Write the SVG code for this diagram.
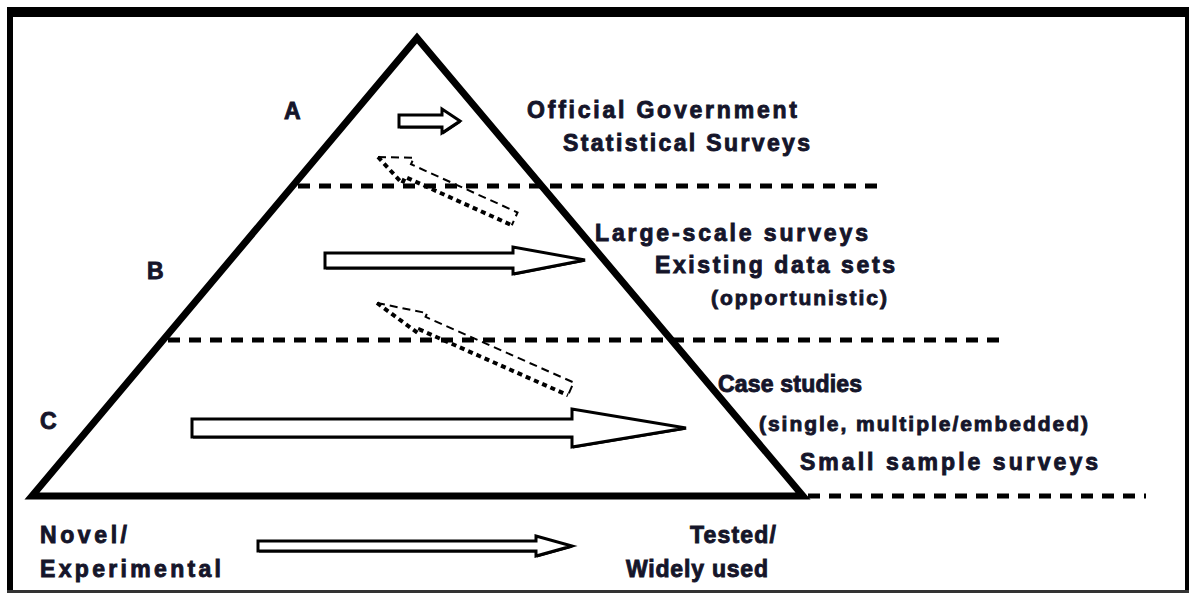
<svg xmlns="http://www.w3.org/2000/svg" width="1190" height="594" viewBox="0 0 1190 594">
  <style>
    .t { font-family: "Liberation Sans", Arial, sans-serif; font-weight: bold; font-size: 23px; fill: #15152a; stroke: #15152a; stroke-width: 0.9px; }
    .s { font-size: 21px; }
    .blk { fill: #fff; stroke: #000; stroke-width: 3; stroke-linejoin: miter; }
    .shd { fill: #000; }
    .div { fill: none; stroke: #000; stroke-width: 5; stroke-dasharray: 12 9; }
    .fb-thin { fill: none; stroke: #000; stroke-width: 2; stroke-dasharray: 8 5; }
    .fb-bold { fill: none; stroke: #000; stroke-width: 4; stroke-dasharray: 5 4; }
  </style>
  <defs>
    <polygon id="arrow-a" points="399,115 442,115 442,109 460,121 442,133 442,127 399,127"/>
    <polygon id="arrow-b" points="325,253 513,253 513,247 585,260 513,274 513,268 325,268"/>
    <polygon id="arrow-c" points="192,419 572,419 572,409 686,428 572,447 572,437 192,437"/>
    <polygon id="arrow-scale" points="258,541 536,541 536,536 572,546 536,556 536,551 258,551"/>
  </defs>
  <rect width="1190" height="594" fill="#fff"/>

  <!-- frame -->
  <g id="frame">
    <rect x="7" y="7" width="1182" height="10" fill="#000"/>
    <rect x="7" y="7" width="6" height="586" fill="#000"/>
    <rect x="1185" y="7" width="4" height="586" fill="#000"/>
    <rect x="7" y="590" width="1182" height="3" fill="#333"/>
  </g>

  <!-- level dividers -->
  <g id="dividers">
    <line class="div" x1="298" y1="186" x2="882" y2="186"/>
    <line class="div" x1="168" y1="340" x2="1006" y2="340"/>
    <line class="div" x1="808" y1="496" x2="1146" y2="496"/>
  </g>

  <!-- pyramid -->
  <g id="pyramid">
    <polygon points="32,496 417,38 803,496" fill="none" stroke="#000" stroke-width="7" stroke-linejoin="miter"/>
  </g>

  <!-- level labels -->
  <g id="level-a"><text class="t" x="284" y="119">A</text></g>
  <g id="level-b"><text class="t" x="147" y="279">B</text></g>
  <g id="level-c"><text class="t" x="40" y="429">C</text></g>

  <!-- connectors: block arrows (with offset shadow) and dashed feedback arrows -->
  <g id="connectors">
    <g transform="translate(1,1.5)" class="shd">
      <use href="#arrow-a"/><use href="#arrow-b"/><use href="#arrow-c"/><use href="#arrow-scale"/>
    </g>
    <use href="#arrow-a" class="blk"/>
    <use href="#arrow-b" class="blk"/>
    <use href="#arrow-c" class="blk"/>
    <use href="#arrow-scale" class="blk"/>

    <g transform="translate(378,157) rotate(24.35)">
      <path class="fb-thin" d="M0,0 L33,-14 L33,-7 L150,-7 L150,7"/>
      <path class="fb-bold" d="M0,0 L33,14 L33,7 L150,7"/>
    </g>
    <g transform="translate(377,303) rotate(23.9)">
      <path class="fb-thin" d="M0,0 L50,-11 L50,-7 L212,-7 L212,7"/>
      <path class="fb-bold" d="M0,0 L50,11 L50,7 L212,7"/>
    </g>
  </g>

  <!-- survey types per level -->
  <g id="text-a">
    <text class="t" x="527" y="118" textLength="270" lengthAdjust="spacing">Official Government</text>
    <text class="t" x="563" y="151" textLength="247" lengthAdjust="spacing">Statistical Surveys</text>
  </g>
  <g id="text-b">
    <text class="t" x="595" y="241" textLength="273" lengthAdjust="spacing">Large-scale surveys</text>
    <text class="t" x="655" y="273" textLength="240" lengthAdjust="spacing">Existing data sets</text>
    <text class="t s" x="711" y="305" textLength="176" lengthAdjust="spacing">(opportunistic)</text>
  </g>
  <g id="text-c">
    <text class="t" x="718" y="392" textLength="144" lengthAdjust="spacing">Case studies</text>
    <text class="t s" x="759" y="431" textLength="329" lengthAdjust="spacing">(single, multiple/embedded)</text>
    <text class="t" x="800" y="470" textLength="298" lengthAdjust="spacing">Small sample surveys</text>
  </g>

  <!-- maturity scale -->
  <g id="scale-start">
    <text class="t" x="40" y="543" textLength="87" lengthAdjust="spacing">Novel/</text>
    <text class="t" x="40" y="577" textLength="181" lengthAdjust="spacing">Experimental</text>
  </g>
  <g id="scale-end">
    <text class="t" x="690" y="543" textLength="86" lengthAdjust="spacing">Tested/</text>
    <text class="t" x="626" y="577" textLength="142" lengthAdjust="spacing">Widely used</text>
  </g>
</svg>
